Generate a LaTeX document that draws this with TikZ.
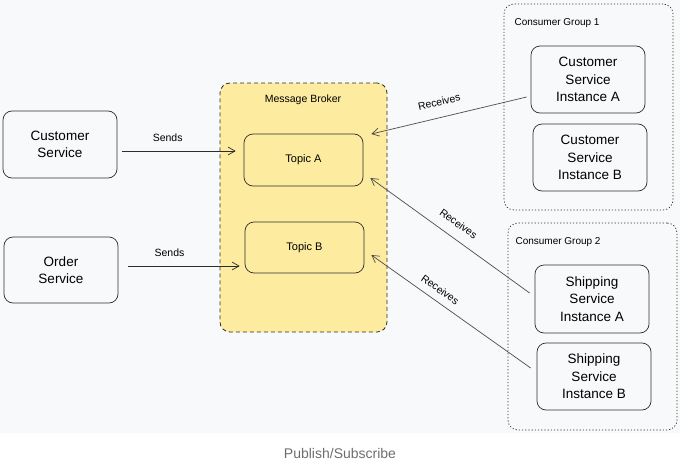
\documentclass[tikz,border=0pt]{standalone}
\usepackage{fontspec}
\setmainfont{Liberation Sans}
\usetikzlibrary{
    arrows.meta,
    positioning,
    calc
}
\definecolor{boardgray}{RGB}{248,249,250}
\definecolor{brokeryellow}{RGB}{253,236,160}
\definecolor{strokedark}{RGB}{45,45,45}
\definecolor{captiongray}{RGB}{110,110,110}
\tikzset{
    servicebox/.style={draw=strokedark, line width=0.7pt, rounded corners=9pt,
        minimum width=114pt, minimum height=67pt, inner sep=0pt, align=center,
        font=\fontsize{13.5}{17.5}\selectfont},
    topicbox/.style={draw=strokedark, line width=0.7pt, rounded corners=9pt,
        minimum width=119pt, minimum height=52pt, inner sep=0pt,
        font=\fontsize{11}{13}\selectfont},
    brokerbox/.style={draw=strokedark, fill=brokeryellow, line width=0.8pt,
        dash pattern=on 4pt off 3pt, rounded corners=10pt,
        minimum width=167pt, minimum height=249pt, inner sep=0pt},
    groupbox/.style={draw=strokedark, line width=0.7pt,
        dash pattern=on 1.2pt off 2pt, rounded corners=10pt,
        minimum width=169pt, minimum height=206pt, inner sep=0pt},
    sendline/.style={draw=strokedark, line width=0.7pt,
        -{Straight Barb[length=7pt,width=8pt]}},
    recvline/.style={draw=strokedark!85, line width=0.7pt,
        {Straight Barb[length=7pt,width=8pt]}-},
    smalllabel/.style={font=\fontsize{10.5}{12}\selectfont},
}

\begin{document}
\begin{tikzpicture}[x=1pt, y=-1pt]
    \fill[boardgray] (0,0) rectangle (680,433);
    \useasboundingbox (0,0) rectangle (680,463);

    % producers
    \node[servicebox] (cust) at (60,144.5) {Customer\\Service};
    \node[servicebox, minimum height=66pt] (order) at (61,270) {Order\\Service};

    % message broker
    \node[brokerbox] (broker) at (303.5,207.5) {};
    \node[smalllabel] (brokerlbl) at (303,100) {Message Broker};
    \node[topicbox] (topicA) at (303.5,160) {Topic A};
    \node[topicbox, minimum height=51pt] (topicB) at (304.5,247.5) {Topic B};

    % consumer group 1
    \node[groupbox] (group1) at (588.5,107) {};
    \node[smalllabel, font=\fontsize{10}{12}\selectfont, anchor=west] (group1lbl) at (511,23) {Consumer Group 1};
    \node[servicebox] (custA) at (588,79.5) {Customer\\Service\\Instance A};
    \node[servicebox] (custB) at (590,157.5) {Customer\\Service\\Instance B};

    % consumer group 2
    \node[groupbox, minimum height=207pt] (group2) at (592.5,326.5) {};
    \node[smalllabel, font=\fontsize{10}{12}\selectfont, anchor=west] (group2lbl) at (512,242) {Consumer Group 2};
    \node[servicebox, minimum height=68pt] (shipA) at (592,299) {Shipping\\Service\\Instance A};
    \node[servicebox] (shipB) at (594,376.5) {Shipping\\Service\\Instance B};

    %% Sends
    \draw[sendline] ([shift={(5,6.5)}]cust.east) -- node[smalllabel, pos=0.4, above=6pt] {Sends} ([shift={(-8,-9)}]topicA.west);
    \draw[sendline] ([shift={(10,-4)}]order.east) -- node[smalllabel, pos=0.37, above=6pt] {Sends} ([shift={(-5,18.5)}]topicB.west);

    %% Receives
    \draw[recvline] ([shift={(8,-26)}]topicA.east) -- node[smalllabel, pos=0.46, sloped, above=8pt] {Receives} ([shift={(-4,17.5)}]custA.west);
    \draw[recvline] ([shift={(7,18)}]topicA.east) -- node[smalllabel, pos=0.5, sloped, above=7pt] {Receives} ([shift={(-5,-6)}]shipA.west);
    \draw[recvline] ([shift={(7,7.5)}]topicB.east) -- node[smalllabel, pos=0.39, sloped, above=4pt] {Receives} ([shift={(-6,-8.5)}]shipB.west);

    % caption
    \node[font=\fontsize{14}{16}\selectfont, text=captiongray] (caption) at (340,453) {Publish/Subscribe};
\end{tikzpicture}
\end{document}
